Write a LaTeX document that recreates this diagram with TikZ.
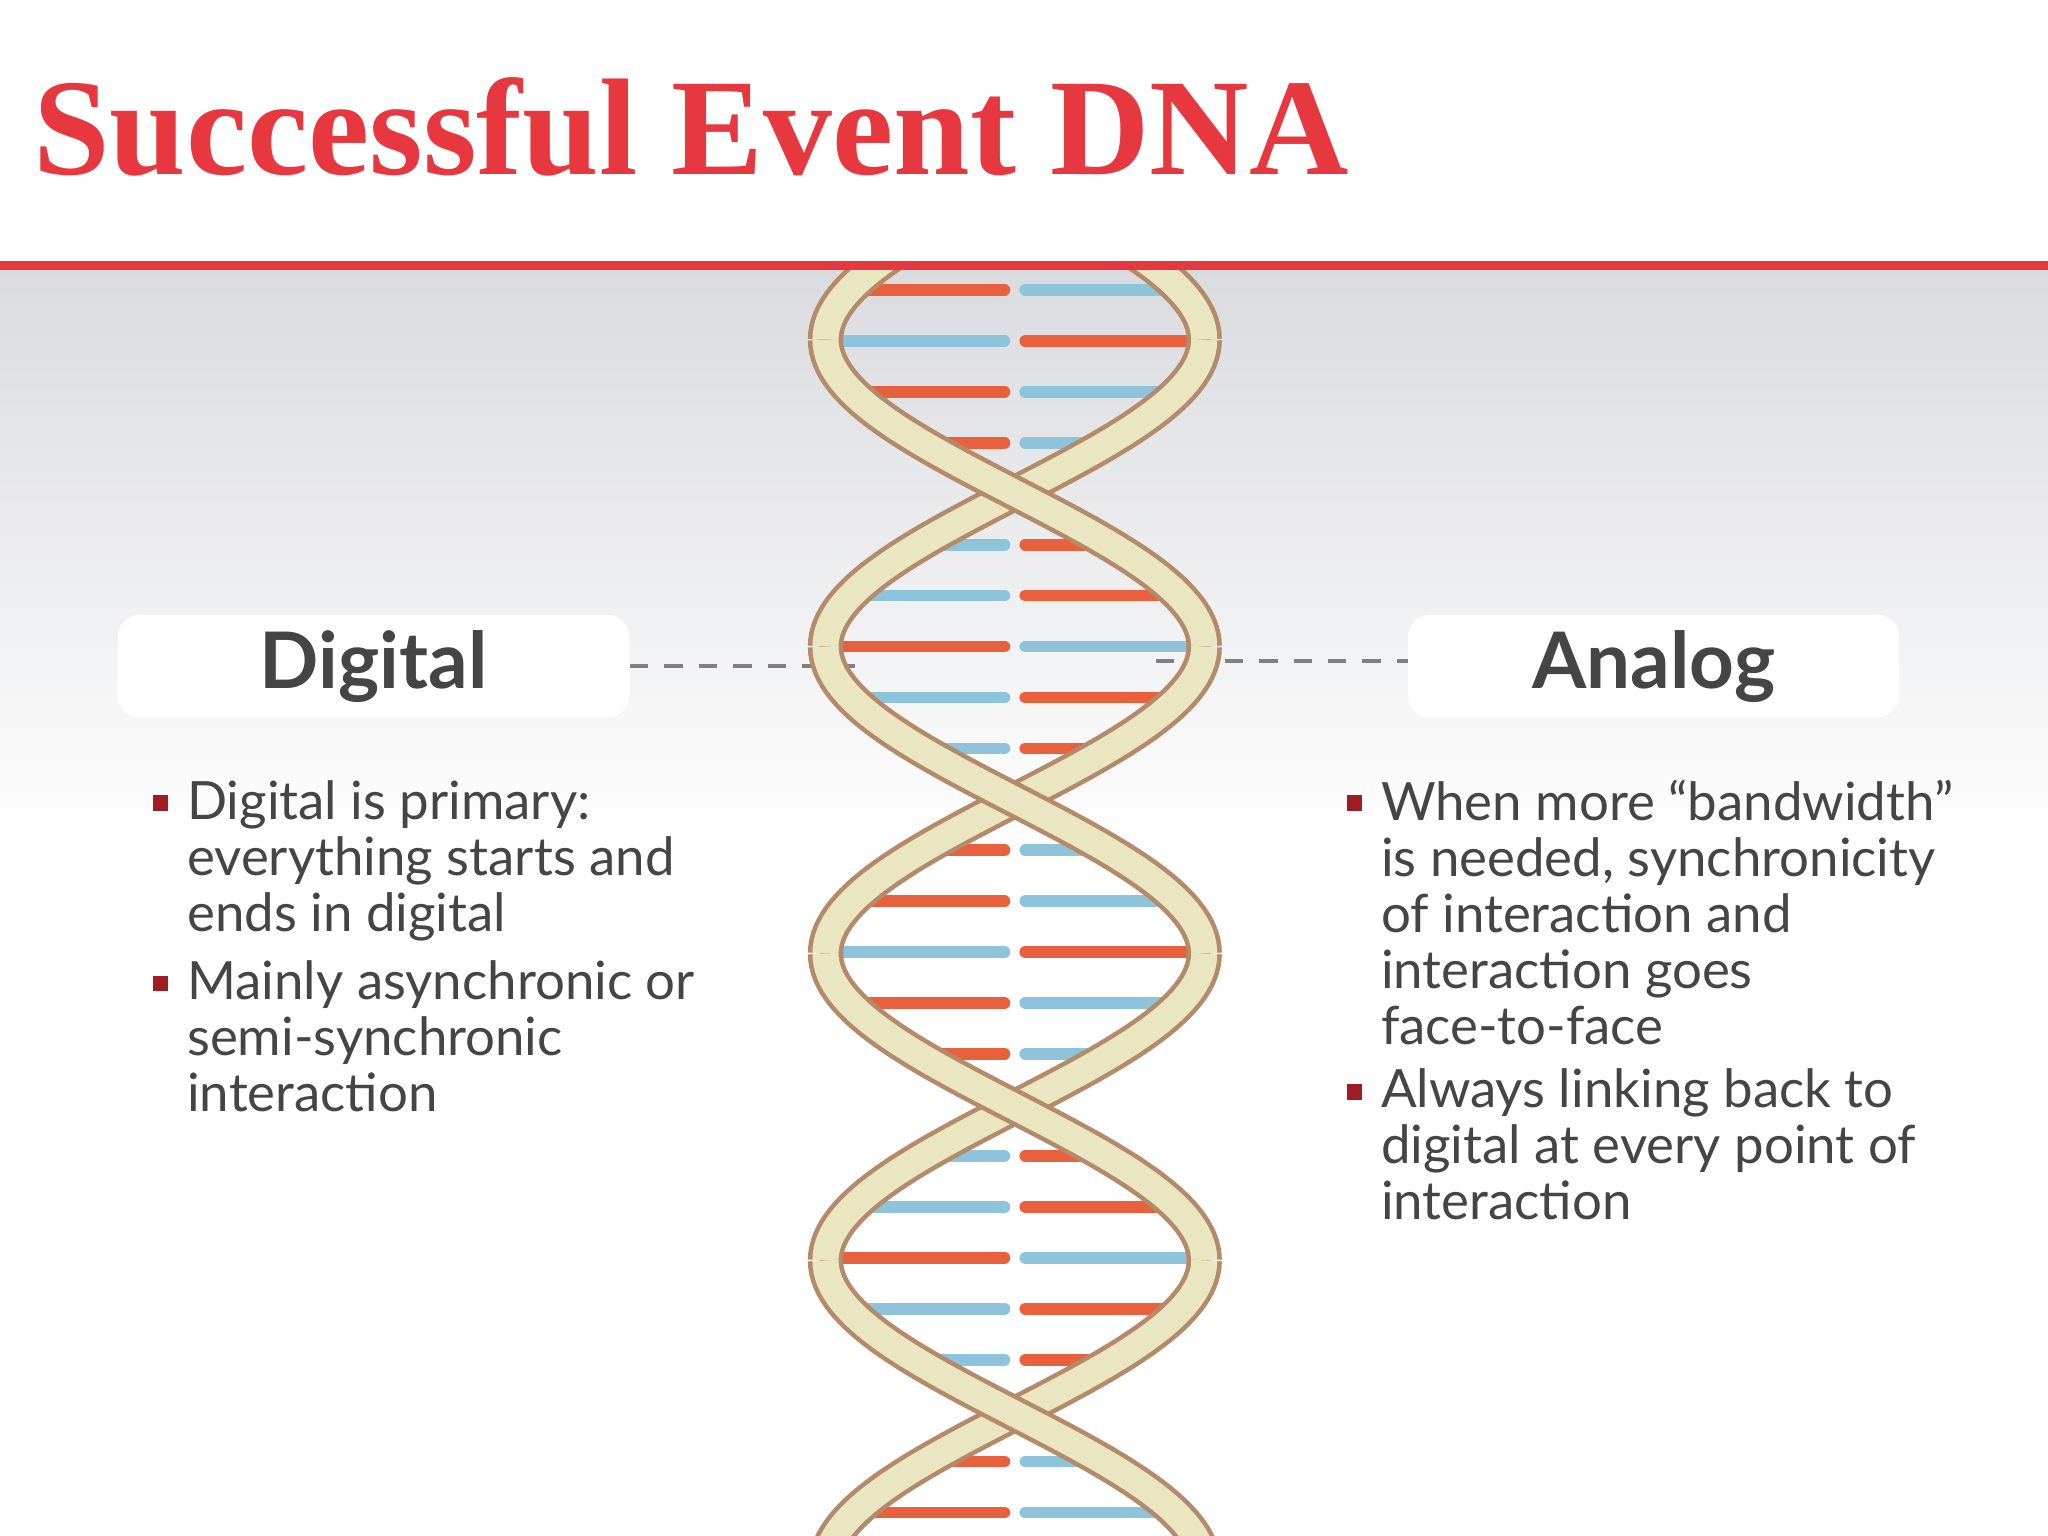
\documentclass[tikz,border=0pt]{standalone}
\usepackage{fontspec}
\setmainfont{Liberation Serif}
\newfontfamily\bodyfont{Lato}
\usetikzlibrary{calc}
\definecolor{titlered}{HTML}{E8383F}
\definecolor{txt}{HTML}{454545}
\definecolor{bul}{HTML}{A01C22}
\definecolor{rred}{HTML}{E8603C}
\definecolor{rblue}{HTML}{8EC3DC}
\definecolor{beige}{HTML}{EAE6C2}
\definecolor{brownl}{HTML}{B48A6A}
\definecolor{bg}{HTML}{DADBDF}
\tikzset{
  hbox/.style={fill=white,rounded corners=10pt,minimum width=392*0.02cm,minimum height=79*0.02cm,font=\bodyfont\bfseries\fontsize{34}{40}\selectfont,text=txt},
  btext/.style={anchor=north west,align=left,inner sep=0pt,text=txt,font=\bodyfont\fontsize{23}{24.4}\selectfont},
  bsq/.style={fill=bul,minimum size=12*0.02cm,inner sep=0pt},
  dashline/.style={draw=gray,line width=1.6pt,dash pattern=on 8pt off 7pt},
  strandout/.style={draw=brownl,line width=27*0.02cm},
  strandin/.style={draw=beige,line width=20*0.02cm},
  rung/.style={line width=9*0.02cm,line cap=round}
}
\begin{document}
\begin{tikzpicture}[x=0.02cm,y=-0.02cm]
\useasboundingbox (0,0) rectangle (1568,1176);
\fill[white] (0,0) rectangle (1568,1176);
\shade[top color=bg,bottom color=white] (0,205) rectangle (1568,650);
\fill[titlered] (0,200) rectangle (1568,207);
\node[anchor=west,text=titlered,font=\bfseries\fontsize{60}{60}\selectfont,inner sep=0pt] (title) at (25,97) {Successful Event DNA};
\node[hbox] (dig) at (286,510) {Digital};
\node[hbox,minimum width=376*0.02cm] (ana) at (1266,510) {Analog};
\coordinate (dl) at (660,510);
\coordinate (dr) at (885,506);
\draw[dashline] (dig.east) -- (dl);
\draw[dashline] (dr) -- (ana.west|-dr);
% DNA
\begin{scope}
\clip (0,207) rectangle (1568,1176);
\foreach \k in {0,...,25}{
  \pgfmathsetmacro\yy{222+39*\k}
  \pgfmathsetmacro\xa{777-145*cos(0.765957*(\yy-260))}
  \pgfmathsetmacro\xb{777+145*cos(0.765957*(\yy-260))}
  \pgfmathtruncatemacro\ok{abs(\xb-\xa)>50}
  \pgfmathtruncatemacro\cc{mod(\k*7,3)}
  \ifnum\ok=1
    \pgfmathsetmacro\xm{(\xa+\xb)/2}
    \pgfmathsetmacro\dd{(\xb>\xa)*16-8}
    \ifnum\cc=1
      \draw[rung,rblue] (\xa,\yy) -- (\xm-\dd,\yy);
      \draw[rung,rred] (\xm+\dd,\yy) -- (\xb,\yy);
    \else
      \draw[rung,rred] (\xa,\yy) -- (\xm-\dd,\yy);
      \draw[rung,rblue] (\xm+\dd,\yy) -- (\xb,\yy);
    \fi
  \fi
}
\foreach \k in {-1,0,...,4}{
  \pgfmathsetmacro\ya{260+235*\k}
  \pgfmathsetmacro\yb{260+235*(\k+1)}
  \pgfmathtruncatemacro\odd{mod(\k+2,2)}
  \ifnum\odd=0
    \draw[strandout] plot[domain=\ya:\yb,samples=60] ({777+145*cos(0.765957*(\x-260))},\x);
    \draw[strandin] plot[domain=\ya:\yb,samples=60] ({777+145*cos(0.765957*(\x-260))},\x);
    \draw[strandout] plot[domain=\ya:\yb,samples=60] ({777-145*cos(0.765957*(\x-260))},\x);
    \draw[strandin] plot[domain=\ya:\yb,samples=60] ({777-145*cos(0.765957*(\x-260))},\x);
  \else
    \draw[strandout] plot[domain=\ya:\yb,samples=60] ({777-145*cos(0.765957*(\x-260))},\x);
    \draw[strandin] plot[domain=\ya:\yb,samples=60] ({777-145*cos(0.765957*(\x-260))},\x);
    \draw[strandout] plot[domain=\ya:\yb,samples=60] ({777+145*cos(0.765957*(\x-260))},\x);
    \draw[strandin] plot[domain=\ya:\yb,samples=60] ({777+145*cos(0.765957*(\x-260))},\x);
  \fi
}
\end{scope}
% bullets
\node[btext] (l1) at (143,597) {Digital is primary:\\everything starts and\\ends in digital};
\node[btext] (l2) at (143,735) {Mainly asynchronic or\\semi-synchronic\\interaction};
\node[btext] (r1) at (1057,597) {When more “bandwidth”\\is needed, synchronicity\\of interaction and\\interaction goes\\face-to-face};
\node[btext] (r2) at (1057,818) {Always linking back to\\digital at every point of\\interaction};
\node[bsq] (b1) at (123,615) {};
\node[bsq] (b2) at (123,753) {};
\node[bsq] (b3) at (1037,615) {};
\node[bsq] (b4) at (1037,836) {};
\end{tikzpicture}
\end{document}
